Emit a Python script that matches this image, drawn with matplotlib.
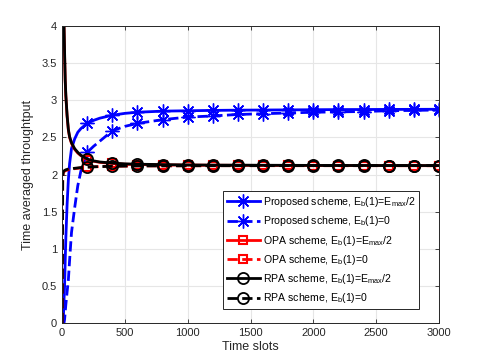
import matplotlib
matplotlib.use('Agg')
import matplotlib.pyplot as plt

plt.rcParams['font.family'] = ['Liberation Sans', 'DejaVu Sans']
plt.rcParams['mathtext.fontset'] = 'custom'
plt.rcParams['mathtext.rm'] = 'Liberation Sans'

# time slots (shared by all curves)
t = [1, 5, 10, 15, 20, 25, 30, 40, 50, 60, 75, 100, 125, 150, 200, 250, 300,
     400, 500, 600, 800, 1000, 1200, 1400, 1600, 1800, 2000, 2200, 2400,
     2600, 2800, 3000]

prop_half = [0, 0, 0.05, 0.3, 0.5, 0.85, 1.15, 1.6, 1.93, 2.15, 2.35, 2.48,
             2.57, 2.62, 2.69, 2.73, 2.76, 2.80, 2.825, 2.84, 2.855, 2.86,
             2.865, 2.868, 2.87, 2.872, 2.874, 2.876, 2.877, 2.878, 2.879, 2.88]
prop_zero = [0, 0, 0, 0, 0.05, 0.15, 0.25, 0.42, 0.58, 0.85, 1.22, 1.55,
             1.85, 2.05, 2.3, 2.38, 2.45, 2.59, 2.65, 2.69, 2.74, 2.775,
             2.79, 2.81, 2.82, 2.83, 2.84, 2.845, 2.85, 2.86, 2.865, 2.87]
opa_half = [8.0, 5.5, 4.4, 4.0, 3.6, 3.25, 3.05, 2.78, 2.6, 2.5, 2.42, 2.34,
            2.29, 2.255, 2.2, 2.18, 2.165, 2.15, 2.14, 2.135, 2.13, 2.128,
            2.126, 2.125, 2.124, 2.123, 2.122, 2.122, 2.121, 2.121, 2.12, 2.12]
opa_zero = [0, 1.95, 2.03, 2.04, 2.045, 2.05, 2.055, 2.06, 2.065, 2.07, 2.075,
            2.08, 2.085, 2.09, 2.1, 2.105, 2.108, 2.112, 2.115, 2.117, 2.118,
            2.119, 2.12, 2.12, 2.12, 2.12, 2.12, 2.12, 2.12, 2.12, 2.12, 2.12]
rpa_half = [8.2, 5.6, 4.45, 4.05, 3.65, 3.28, 3.07, 2.8, 2.61, 2.51, 2.43, 2.35,
            2.3, 2.26, 2.21, 2.185, 2.17, 2.155, 2.145, 2.14, 2.135, 2.13,
            2.128, 2.127, 2.126, 2.125, 2.124, 2.123, 2.123, 2.122, 2.122, 2.122]
rpa_zero = [0, 1.97, 2.04, 2.05, 2.055, 2.06, 2.065, 2.07, 2.075, 2.078, 2.08,
            2.085, 2.09, 2.095, 2.1, 2.105, 2.108, 2.112, 2.115, 2.117, 2.118,
            2.119, 2.12, 2.12, 2.121, 2.121, 2.121, 2.121, 2.121, 2.121, 2.121, 2.121]

half = r'E$_\mathregular{b}$(1)=E$_\mathregular{max}$/2'
zero = r'E$_\mathregular{b}$(1)=0'
labels = ['Proposed scheme, ' + half, 'Proposed scheme, ' + zero,
          'OPA scheme, ' + half, 'OPA scheme, ' + zero,
          'RPA scheme, ' + half, 'RPA scheme, ' + zero]

# markers every 200 slots
mk = [i for i, v in enumerate(t) if v % 200 == 0]

fig = plt.figure(figsize=(4.85, 3.63), dpi=100)
ax = fig.add_axes([0.128, 0.110, 0.777, 0.818])

star = (8, 2, 0)
kw = dict(lw=2, markevery=mk, fillstyle='none')
ax.plot(t, prop_half, '-', color='#0000ff', marker=star, ms=10, mew=1,
        label=labels[0], **kw)
ax.plot(t, prop_zero, '--', color='#0000ff', marker=star, ms=10, mew=1,
        label=labels[1], **kw)
ax.plot(t, opa_half, '-', color='#ff0000', marker='s', ms=5.5, mew=1.5,
        label=labels[2], **kw)
ax.plot(t, opa_zero, '--', color='#ff0000', marker='s', ms=5.5, mew=1.5,
        label=labels[3], **kw)
ax.plot(t, rpa_half, '-', color='black', marker='o', ms=8, mew=1.3,
        label=labels[4], **kw)
ax.plot(t, rpa_zero, '--', color='black', marker='o', ms=8, mew=1.3,
        label=labels[5], **kw)

ax.set_xlim(0, 3000)
ax.set_ylim(0, 4)
ax.set_xticks(range(0, 3001, 500))
ax.set_yticks([0, 0.5, 1, 1.5, 2, 2.5, 3, 3.5, 4])
ax.set_yticklabels(['0', '0.5', '1', '1.5', '2', '2.5', '3', '3.5', '4'])
ax.grid(True, color='#e6e6e6', lw=0.8)
ax.set_axisbelow(True)
ax.tick_params(direction='in', top=True, right=True, labelsize=8,
               colors='#262626', length=3, width=0.6)
for s in ax.spines.values():
    s.set_color('#262626')
    s.set_linewidth(0.7)

ax.set_xlabel('Time slots', fontsize=9, color='#262626', labelpad=2)
ax.set_ylabel('Time averaged throughtput', fontsize=9, color='#262626', labelpad=6)

leg = ax.legend(loc='lower right', bbox_to_anchor=(0.947, 0.047),
                borderaxespad=0, fontsize=7.6, numpoints=1, fancybox=False,
                framealpha=1, edgecolor='#262626', handlelength=3.1,
                labelspacing=0.5, handletextpad=0.3, borderpad=0.35)
leg.get_frame().set_linewidth(0.7)

fig.savefig('out.png', dpi=100)
